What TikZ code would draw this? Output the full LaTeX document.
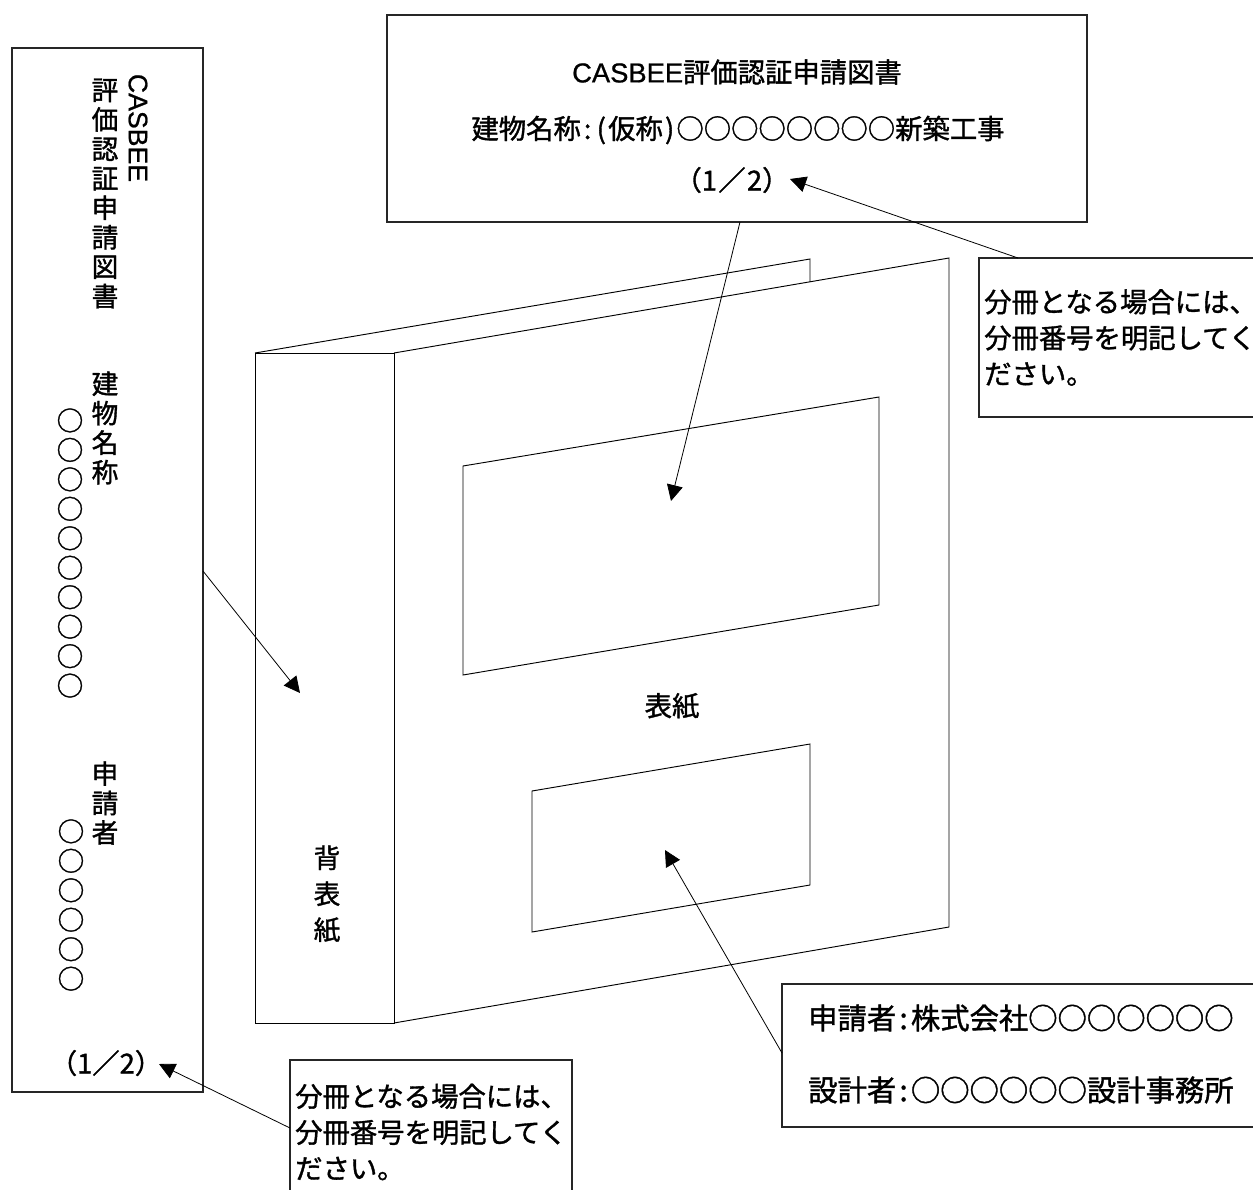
\documentclass[tikz,border=0pt]{standalone}
\usepackage{fontspec}
\setmainfont{Noto Sans CJK JP}[FakeBold=1.3]
\newfontfamily\latinfont{Liberation Sans}[FakeBold=0.8]
\usetikzlibrary{arrows.meta}
% half-width punctuation cells
\newcommand{\hw}[1]{\makebox[0.5em]{#1}}
\begin{document}
\begin{tikzpicture}[x=0.75pt,y=-0.75pt,
  box/.style={draw=black!85, line width=0.8pt},
  edge/.style={draw=black, line width=0.7pt, line join=miter},
  pointer/.style={draw=black, line width=0.6pt, -{Triangle[length=12pt,width=12pt]}},
  txt/.style={inner sep=0pt, font=\fontsize{20.5pt}{27pt}\selectfont},
  vcol/.style={inner sep=0pt, align=center, font=\fontsize{20pt}{22.1pt}\selectfont},
]
\useasboundingbox (0,0) rectangle (1253,1189);
\clip (0,0) rectangle (1253,1189);

% ---------- spine label (vertical writing) ----------
\draw[box] (12,48) rectangle (203,1092);
\node[inner sep=0pt, rotate=-90, font=\fontsize{20pt}{24pt}\latinfont] (sp-casbee) at (138,128) {CASBEE};
\node[vcol] (sp-title) at (105,193.5) {評\\価\\認\\証\\申\\請\\図\\書};
\node[vcol] (sp-bldg) at (105,428) {建\\物\\名\\称};
\node[vcol] (sp-bldg-o) at (70,553) {○\\○\\○\\○\\○\\○\\○\\○\\○\\○};
\node[vcol] (sp-appl) at (105,803) {申\\請\\者};
\node[vcol] (sp-appl-o) at (71,905) {○\\○\\○\\○\\○\\○};
\node[txt] (sp-vol) at (106,1063) {（1／2）};
\coordinate (sp-out) at (203,571);

% ---------- binder ----------
\coordinate (sTL) at (255,353);
\coordinate (sTR) at (394,353);
\coordinate (sBL) at (255,1023);
\coordinate (sBR) at (394,1023);
\coordinate (bTR) at (810,259);
\coordinate (bJ)  at (810,282);
\coordinate (fTR) at (949,258);
\coordinate (fBR) at (949,927);
\draw[edge] (sTL) rectangle (sBR);
\draw[edge] (sTL) -- (bTR) -- (bJ);
\draw[edge] (sTR) -- (fTR) -- (fBR) -- (sBR);
\node[vcol, font=\fontsize{20pt}{27pt}\selectfont] (spine) at (327,894) {背\\表\\紙};

% cover windows
\draw[edge] (463,466) -- (879,397) -- (879,605) -- (463,675) -- cycle;
\draw[edge] (532,791) -- (810,744) -- (810,885) -- (532,932) -- cycle;
\node[txt] (cover) at (672,706) {表紙};
\coordinate (win-top) at (671,501);
\coordinate (win-low) at (665,850);
\coordinate (spine-pt) at (300,693);

% ---------- cover title box ----------
\draw[box] (387,15) rectangle (1087,222);
\node[txt] (t1) at (737,72) {{\latinfont CASBEE}評価認証申請図書};
\node[txt] (t2) at (738,130) {建物名称\hw{:}\hw{(}仮称\hw{)}○○○○○○○○新築工事};
\node[txt] (t3) at (732,180) {（1\kern1pt／\kern1pt2）};
\coordinate (t-out) at (740,222);
\coordinate (t3-pt) at (790,179);

% ---------- note, upper right ----------
\draw[box] (979,258) rectangle (1275,417);
\node[txt, anchor=west, align=left] (noteR) at (984,337.5) {分冊となる場合には、\\分冊番号を明記してく\\ださい。};
\coordinate (noteR-out) at (1018,258);

% ---------- note, lower left ----------
\draw[box] (290,1060) rectangle (572,1210);
\node[txt, anchor=west, align=left] (noteL) at (295,1132) {分冊となる場合には、\\分冊番号を明記してく\\ださい。};
\coordinate (noteL-out) at (290,1128);
\coordinate (sp-vol-pt) at (159,1064);

% ---------- applicant box ----------
\draw[box] (782,984) rectangle (1275,1127);
\node[txt, anchor=west, font=\fontsize{22pt}{27pt}\selectfont] (appl) at (808,1018) {申請者\hw{:}株式会社○○○○○○○};
\node[txt, anchor=west, font=\fontsize{22pt}{27pt}\selectfont] (desg) at (808,1090) {設計者\hw{:}○○○○○○設計事務所};
\coordinate (appl-out) at (782,1053);

% ---------- pointers ----------
\draw[pointer] (sp-out) -- (spine-pt);
\draw[pointer] (t-out) -- (win-top);
\draw[pointer] (noteR-out) -- (t3-pt);
\draw[pointer] (appl-out) -- (win-low);
\draw[pointer] (noteL-out) -- (sp-vol-pt);
\end{tikzpicture}
\end{document}
